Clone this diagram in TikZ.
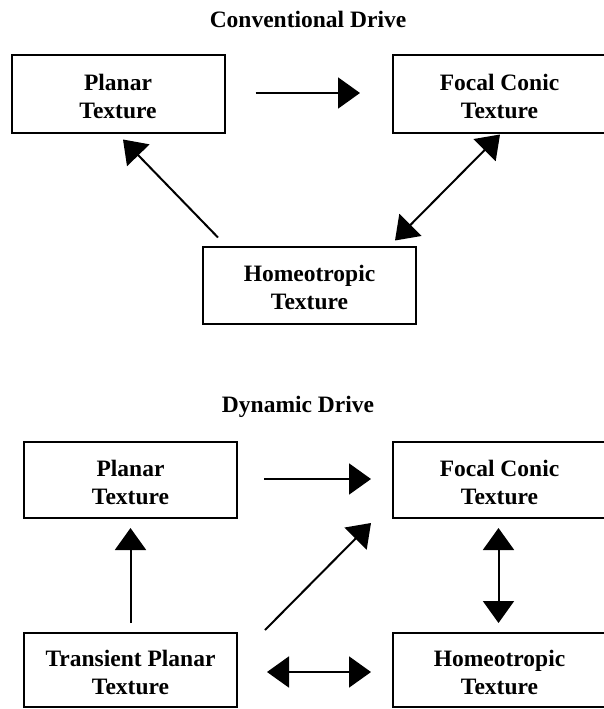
\documentclass[tikz,border=0pt]{standalone}
\usepackage{fontspec}
\setmainfont{Liberation Serif}
\usetikzlibrary{arrows.meta}
\newcommand\mystrut{\rule{0pt}{22pt}}
\begin{document}
\begin{tikzpicture}[x=1pt,y=-1pt,
  box/.style={draw, line width=2pt, minimum width=213pt, minimum height=77pt, inner sep=0pt, align=center, font=\fontsize{23.5}{28}\selectfont\bfseries},
  ttl/.style={anchor=base, inner sep=0pt, font=\fontsize{23.5}{28}\selectfont\bfseries},
  arr/.style={line width=2pt, -{Triangle[length=22pt,width=31pt]}},
  darr/.style={line width=2pt, {Triangle[length=22pt,width=31pt]}-{Triangle[length=22pt,width=31pt]}}]
\useasboundingbox (0,0) rectangle (604,709);

% Conventional drive
\node[ttl] (t1) at (308,28) {Conventional Drive};
\node[box] (P1) at (118,94) {\mystrut Planar\\Texture};
\node[box] (F1) at (499.5,94) {\mystrut Focal Conic\\Texture};
\node[box] (H1) at (309.5,285) {\mystrut Homeotropic\\Texture};

\draw[arr] ([shift={(30,-1)}]P1.east) -- ([shift={(-32,-1)}]F1.west);
\draw[arr] ([shift={(16,-8)}]H1.north west) -- ([shift={(5,6)}]P1.south);
\draw[darr] ([shift={(0.5,1)}]F1.south) -- ([shift={(-22,-5)}]H1.north east);

% Dynamic drive
\node[ttl] (t2) at (298,412) {Dynamic Drive};
\node[box, minimum height=76pt] (P2) at (130.5,480) {\mystrut Planar\\Texture};
\node[box, minimum height=76pt] (F2) at (499.5,480) {\mystrut Focal Conic\\Texture};
\node[box, minimum height=74pt] (T2) at (130.5,670) {\mystrut Transient Planar\\Texture};
\node[box, minimum height=74pt] (H2) at (499.5,670) {\mystrut Homeotropic\\Texture};

\draw[arr] ([shift={(26,-1)}]P2.east) -- ([shift={(-21,-1)}]F2.west);
\draw[arr] ([shift={(0,-9)}]T2.north) -- ([shift={(0,9)}]P2.south);
\draw[arr] ([shift={(27,-2)}]T2.north east) -- ([shift={(-21,4)}]F2.south west);
\draw[darr] ([shift={(-1,9)}]F2.south) -- ([shift={(-1,-9)}]H2.north);
\draw[darr] ([shift={(29,2)}]T2.east) -- ([shift={(-21,2)}]H2.west);
\end{tikzpicture}
\end{document}
